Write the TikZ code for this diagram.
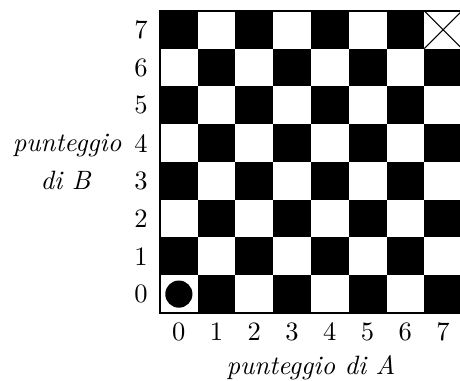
\documentclass[tikz,border=0pt]{standalone}
\begin{document}
\begin{tikzpicture}[x=0.5cm,y=0.5cm,
  cellblack/.style={fill=black,draw=none},
  lbl/.style={inner sep=0pt,font=\normalsize},
  axislbl/.style={inner sep=0pt,anchor=base,font=\itshape}]
\useasboundingbox (-4.238,-1.80) rectangle (7.947,8.291);
% board
\fill[white] (0,0) rectangle (8,8);
\foreach \i in {0,...,7}{
  \foreach \j in {0,...,7}{
    \pgfmathtruncatemacro{\p}{mod(\i+\j,2)}
    \ifnum\p=1
      \fill[cellblack] (\i,\j) rectangle ++(1,1);
    \fi
  }
}
\draw[line width=0.4pt] (0,0) rectangle (8,8);
% marks
\node[circle,fill=black,minimum size=0.36cm,inner sep=0pt] (start) at (0.5,0.5) {};
\coordinate (xa) at (7,7);
\coordinate (xb) at (8,8);
\coordinate (xc) at (7,8);
\coordinate (xd) at (8,7);
\draw[line width=0.4pt] (xa) -- (xb);
\draw[line width=0.4pt] (xc) -- (xd);
% labels
\foreach \k in {0,...,7}{
  \node[lbl] (c\k) at (\k+0.5,-0.5) {\k};
  \node[lbl] (r\k) at (-0.5,\k+0.5) {\k};
}
\node[axislbl] (la) at (4,-1.62) {punteggio di A};
\node[axislbl] (lb1) at (-2.46,4.27) {punteggio};
\node[axislbl] (lb2) at (-2.50,3.27) {di B};
\end{tikzpicture}
\end{document}
